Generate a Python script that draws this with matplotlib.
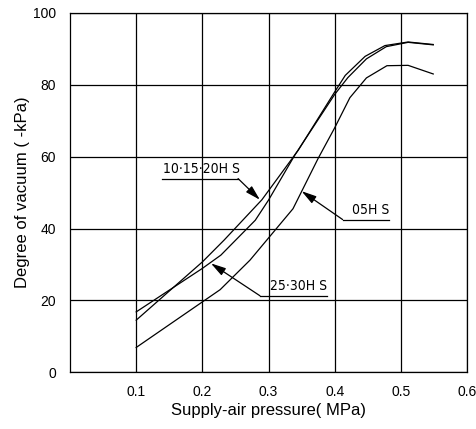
import numpy as np
import matplotlib
matplotlib.use("Agg")
import matplotlib.pyplot as plt
from matplotlib import font_manager

plt.rcParams['font.family'] = ['Liberation Sans', 'DejaVu Sans']

# supply-air pressure (MPa) vs. degree of vacuum (-kPa)
x_10_15_20 = [0.10, 0.20, 0.233, 0.29, 0.345, 0.40, 0.416, 0.446, 0.476, 0.511, 0.549]
y_10_15_20 = [14.5, 30.7, 36.8, 48.0, 61.8, 78.0, 82.6, 87.9, 90.9, 91.9, 91.2]

x_25_30 = [0.10, 0.20, 0.228, 0.28, 0.30, 0.34, 0.40, 0.42, 0.448, 0.478, 0.511, 0.549]
y_25_30 = [16.8, 28.9, 32.6, 42.3, 47.9, 60.5, 77.3, 82.0, 87.2, 90.6, 91.8, 91.1]

x_05 = [0.10, 0.227, 0.272, 0.337, 0.375, 0.40, 0.423, 0.448, 0.479, 0.511, 0.549]
y_05 = [6.9, 23.0, 31.2, 45.5, 59.5, 68.0, 76.4, 81.9, 85.3, 85.4, 83.0]

x_ticks = [0.1, 0.2, 0.3, 0.4, 0.5, 0.6]
y_ticks = [0, 20, 40, 60, 80, 100]

# narrow face for the leader labels, if there is one
names = {f.name for f in font_manager.fontManager.ttflist}
if 'Liberation Sans Narrow' in names:
    tag_font = dict(family=['Liberation Sans Narrow', 'DejaVu Sans'], fontsize=11)
else:
    tag_font = dict(family=['DejaVu Sans'], fontstretch='condensed', fontsize=10)

fig = plt.figure(figsize=(4.77, 4.29), dpi=100)
ax = fig.add_axes([0.1468, 0.1322, 0.8322, 0.8378])

lw = 0.9
for xs, ys in [(x_10_15_20, y_10_15_20), (x_25_30, y_25_30), (x_05, y_05)]:
    ax.plot(xs, ys, color='black', lw=lw, zorder=3)

ax.set_xlim(0, 0.6)
ax.set_ylim(0, 100)
ax.set_xticks(x_ticks)
ax.set_xticklabels([f'{v:.1f}' for v in x_ticks])
ax.set_yticks(y_ticks)
ax.tick_params(length=0, labelsize=10, colors='black')
ax.tick_params(axis='x', pad=9)
ax.tick_params(axis='y', pad=10)
ax.grid(True, color='black', lw=0.9)
for s in ax.spines.values():
    s.set_color('black')
    s.set_linewidth(0.9)

ax.set_xlabel('Supply-air pressure( MPa)', fontsize=12, labelpad=3)
ax.set_ylabel('Degree of vacuum ( -kPa)', fontsize=12, labelpad=2)

# leader labels: (text, underline x0, x1, y, text x, leader start x, arrow tip)
labels = [
    ('10·15·20H S', 0.139, 0.254, 53.9, 0.141, 0.254, (0.287, 48.0)),
    ('05H S', 0.412, 0.482, 42.5, 0.426, 0.412, (0.350, 50.4)),
    ('25·30H S', 0.287, 0.388, 21.3, 0.303, 0.287, (0.213, 30.3)),
]
for txt, x0, x1, y, xt, xs, tip in labels:
    ax.plot([x0, x1], [y, y], color='black', lw=lw, zorder=4)
    ax.text(xt, y + 0.8, txt, ha='left', va='bottom', zorder=4, **tag_font)
    ax.annotate('', xy=tip, xytext=(xs, y),
                arrowprops=dict(arrowstyle='-|>,head_length=0.9,head_width=0.25',
                                color='black', lw=lw, mutation_scale=10,
                                shrinkA=0, shrinkB=0),
                zorder=4)

fig.savefig('out.png', dpi=100)
